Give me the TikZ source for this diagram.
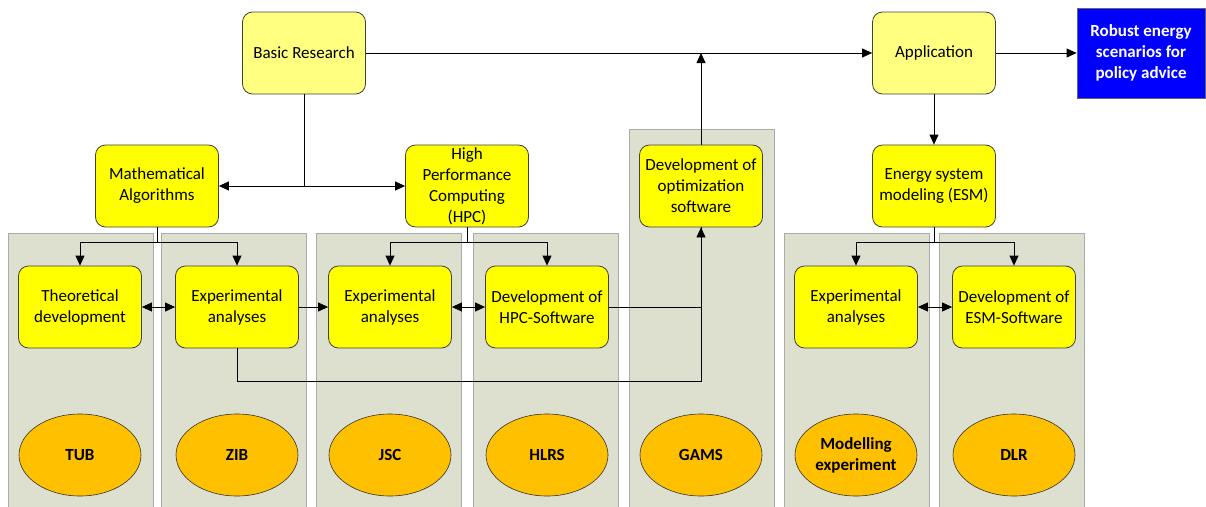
\documentclass[tikz,border=0pt]{standalone}
\usepackage{fontspec}
\setmainfont{Carlito}
\usetikzlibrary{shapes.geometric,arrows.meta,calc}

\definecolor{panelgreen}{RGB}{221,224,206}
\definecolor{panelline}{RGB}{170,170,170}
\definecolor{boxyellow}{RGB}{255,255,0}
\definecolor{paleyellow}{RGB}{255,255,128}
\definecolor{instorange}{RGB}{255,192,0}
\definecolor{advblue}{RGB}{0,0,255}

\newcommand{\boxfont}{\fontsize{17}{21}\selectfont}

\tikzset{
  box/.style={draw=black!75,fill=boxyellow,rounded corners=10pt,line width=0.8pt,
    minimum width=123pt,minimum height=82pt,inner sep=1pt,align=center},
  topbox/.style={box,fill=paleyellow},
  advice/.style={draw=black!60,fill=advblue,text=white,font=\boxfont\bfseries,line width=0.8pt,
    minimum width=128pt,minimum height=90pt,inner sep=1pt,align=center},
  inst/.style={ellipse,draw=black!80,fill=instorange,font=\boxfont\bfseries,line width=0.6pt,
    minimum width=122pt,minimum height=82pt,inner sep=0pt,align=center},
  panel/.style={fill=panelgreen,draw=panelline,line width=0.8pt},
  arr/.style={-{Triangle[length=10pt,width=9pt]},line width=0.8pt},
  dbl/.style={{Triangle[length=10pt,width=9pt]}-{Triangle[length=10pt,width=9pt]},line width=0.8pt}
}

\begin{document}
\begin{tikzpicture}[x=1pt,y=-1pt,font=\boxfont]
  \useasboundingbox (0,0) rectangle (1206,506);
  % institute columns
  \foreach \x in {8,161,316,473,784,939}
    \draw[panel] (\x,233) rectangle (\x+145,512);
  \draw[panel] (629,129) rectangle (774,512);

  % top row
  \node[topbox] (basic) at (304,53) {Basic Research};
  \node[topbox] (app) at (934,53) {Application};
  \node[advice] (robust) at (1141,53) {Robust energy\\scenarios for\\policy advice};

  % middle row
  \node[box] (math) at (157,186) {Mathematical\\Algorithms};
  \node[box] (hpc) at (467,186) {High\\Performance\\Computing\\(HPC)};
  \node[box] (opt) at (701,186) {Development of\\optimization\\software};
  \node[box] (esm) at (934,186) {Energy system\\modeling (ESM)};

  % work packages
  \node[box] (theo) at (80,307) {Theoretical\\development};
  \node[box] (zibexp) at (237,307) {Experimental\\analyses};
  \node[box] (jscexp) at (390,307) {Experimental\\analyses};
  \node[box] (hpcsw) at (547,307) {Development of\\HPC-Software};
  \node[box] (modexp) at (856,307) {Experimental\\analyses};
  \node[box] (esmsw) at (1014,307) {Development of\\ESM-Software};

  % partners
  \node[inst] (tub) at (80,455) {TUB};
  \node[inst] (zib) at (237,455) {ZIB};
  \node[inst] (jsc) at (390,455) {JSC};
  \node[inst] (hlrs) at (547,455) {HLRS};
  \node[inst] (gams) at (701,455) {GAMS};
  \node[inst] (model) at (856,455) {Modelling\\experiment};
  \node[inst] (dlr) at (1014,455) {DLR};

  % connectors
  \draw[arr] (basic.east) -- (app.west);
  \draw[arr] (app.east) -- (robust.west);
  \draw[arr] (app.south) -- (esm.north);
  \draw[arr] (opt.north) -- (opt.north |- basic.east);

  \coordinate (bj) at (basic.south |- math.east);
  \draw[line width=0.8pt] (basic.south) -- (bj);
  \draw[arr] (bj) -- (math.east);
  \draw[arr] (bj) -- (hpc.west);

  \coordinate (mj) at ($(math.south)+(0,15)$);
  \draw[line width=0.8pt] (math.south) -- (mj);
  \draw[arr] (mj) -| (theo.north);
  \draw[arr] (mj) -| (zibexp.north);

  \coordinate (hj) at ($(hpc.south)+(0,15)$);
  \draw[line width=0.8pt] (hpc.south) -- (hj);
  \draw[arr] (hj) -| (jscexp.north);
  \draw[arr] (hj) -| (hpcsw.north);

  \coordinate (ej) at ($(esm.south)+(0,15)$);
  \draw[line width=0.8pt] (esm.south) -- (ej);
  \draw[arr] (ej) -| (modexp.north);
  \draw[arr] (ej) -| (esmsw.north);

  \draw[dbl] (theo.east) -- (zibexp.west);
  \draw[arr] (zibexp.east) -- (jscexp.west);
  \draw[dbl] (jscexp.east) -- (hpcsw.west);
  \draw[dbl] (modexp.east) -- (esmsw.west);

  \draw[line width=0.8pt] (hpcsw.east) -| (opt.south);
  \draw[arr] (zibexp.south) -- ++(0,33) -| (opt.south);
\end{tikzpicture}
\end{document}
